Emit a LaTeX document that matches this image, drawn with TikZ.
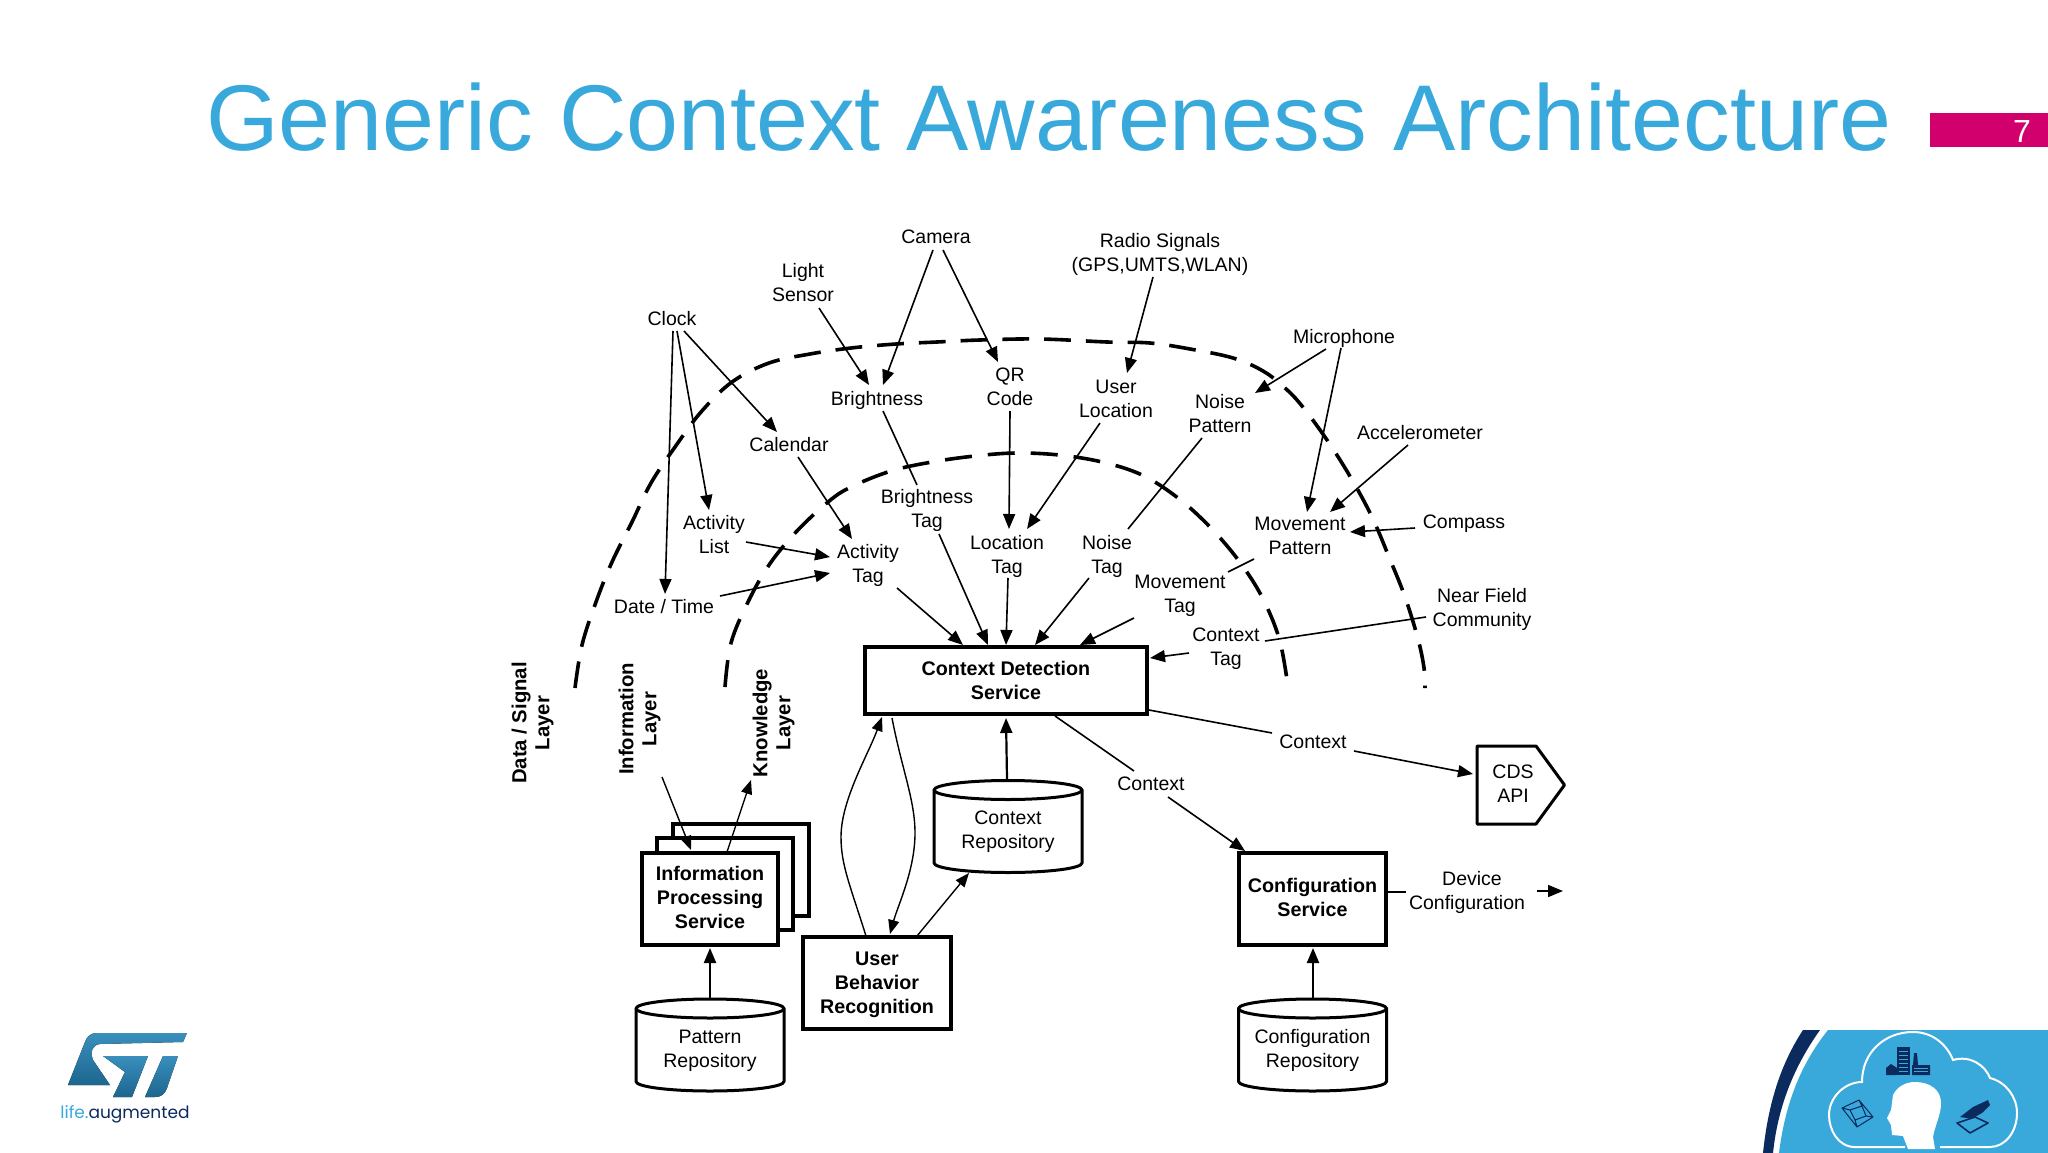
\documentclass[tikz,border=0pt]{standalone}
\usepackage{fontspec}
\setmainfont{Liberation Sans}
\newfontfamily\logofont{Poppins}
\usetikzlibrary{arrows.meta}
\definecolor{titleblue}{HTML}{39A9DC}
\definecolor{pagepink}{HTML}{D1006C}
\definecolor{navy}{HTML}{0B2A5E}
\definecolor{stdark}{HTML}{1C668F}
\definecolor{stlight}{HTML}{3A8FBC}
\tikzset{
  lab/.style={inner sep=0pt,align=center,font=\fontsize{19.5}{24}\selectfont},
  blab/.style={inner sep=0pt,align=center,font=\fontsize{20.3}{23}\selectfont\bfseries},
  boxn/.style={draw=black,line width=3.6pt,fill=white,inner sep=0pt,align=center,font=\fontsize{19.7}{24}\selectfont\bfseries},
  boxline/.style={draw=black,line width=3pt,fill=white,line join=round},
  arr/.style={-{Triangle[length=15pt,width=12pt]},line width=1.6pt},
  arrs/.style={-{Triangle[length=14pt,width=11pt]},line width=1.4pt},
  arrt/.style={-{Triangle[length=15pt,width=12pt]},line width=2.2pt},
  seg/.style={line width=1.6pt},
  layerout/.style={line width=3.6pt,dash pattern=on 26.8pt off 15pt},
  layerin/.style={line width=3.6pt,dash pattern=on 27pt off 16pt},
}
\newcommand{\repodraw}[2]{%
  \draw[boxline] (#1-74,#2-36.5) .. controls (#1-74,#2-41.75) and (#1-40.9,#2-46) .. (#1,#2-46) .. controls (#1+40.9,#2-46) and (#1+74,#2-41.75) .. (#1+74,#2-36.5) -- (#1+74,#2+36.5) .. controls (#1+74,#2+41.75) and (#1+40.9,#2+46) .. (#1,#2+46) .. controls (#1-40.9,#2+46) and (#1-74,#2+41.75) .. (#1-74,#2+36.5) -- cycle;
  \draw[line width=3pt,line cap=round] (#1-74,#2-36.5) .. controls (#1-74,#2-31.25) and (#1-40.9,#2-27) .. (#1,#2-27) .. controls (#1+40.9,#2-27) and (#1+74,#2-31.25) .. (#1+74,#2-36.5);
}
\begin{document}
\begin{tikzpicture}[x=1pt,y=-1pt]
\useasboundingbox (0,0) rectangle (2048,1153);
\fill[white] (0,0) rectangle (2048,1153);
% title and page number
\node[anchor=base west,inner sep=0pt,text=titleblue,font=\fontsize{93.4}{100}\selectfont] (title) at (206,150) {Generic Context Awareness Architecture};
\fill[pagepink] (1930,113) rectangle (2048,147);
\node[text=white,inner sep=0pt,font=\fontsize{32}{36}\selectfont] (pagenum) at (2022,131) {7};
% layer arcs
\draw[layerout] plot[smooth,tension=0.6] coordinates {(575,688)(582,645)(596,602)(612,562)(632,522)(651,483)(675,447)(701,412)(732,382)(769,363)(810,354)(851,348)(896,344)(937,342)(980,340)(1040,339)(1107,342)(1150,343)(1190,349)(1233,358)(1263,371)(1285,388)(1302,406)(1327,440)(1351,478)(1372,517)(1389,557)(1405,597)(1418,639)(1424,668)(1425,688)};
\draw[layerin] plot[smooth,tension=0.6] coordinates {(725,687)(731,643)(748,602)(769,565)(796,532)(828,502)(851,487)(891,471)(932,462)(975,456)(1016,453)(1059,455)(1102,462)(1142,475)(1178,498)(1210,527)(1239,561)(1262,597)(1279,638)(1287,680)};
% text nodes
\node[lab] (cam) at (936,237) {Camera};
\node[lab] (light) at (803,283) {Light\\Sensor};
\node[lab] (clock) at (672,319) {Clock};
\node[lab] (bright) at (877,400.6) {Brightness};
\node[lab] (qr) at (1010,387) {QR\\Code};
\node[lab] (cal) at (789,445) {Calendar};
\node[lab] (btag) at (927,510.3) {Brightness\\Tag};
\node[lab] (alist) at (714,535) {Activity\\List};
\node[lab] (atag) at (868,565.3) {Activity\\Tag};
\node[lab] (dt) at (664,607) {Date / Time};
\node[lab] (ltag) at (1007,556.6) {Location\\Tag};
\node[lab] (radio) at (1160,254.6) {Radio Signals\\(GPS,UMTS,WLAN)};
\node[lab] (uloc) at (1116,399.3) {User\\Location};
\node[lab] (mic) at (1344,338.6) {Microphone};
\node[lab] (npat) at (1220,414) {Noise\\Pattern};
\node[lab] (acc) at (1420,433) {Accelerometer};
\node[lab] (mpat) at (1300,536) {Movement\\Pattern};
\node[lab] (comp) at (1464,523.3) {Compass};
\node[lab] (near) at (1482,609.3) {Near Field\\Community};
\node[lab] (ntag) at (1107,556.3) {Noise\\Tag};
\node[lab] (mtag) at (1180,596.3) {Movement\\Tag};
\node[lab] (ctag) at (1226,648.3) {Context\\Tag};
\node[lab] (ctxa) at (1313,742) {Context};
\node[lab] (ctxb) at (1151,784) {Context};
\node[lab] (dev) at (1467,892.6) {\hspace*{10pt}Device\\Configuration};
% rotated layers
\node[blab,rotate=90] (ldata) at (532.6,723) {Data / Signal\\Layer};
\node[blab,rotate=90] (linfo) at (639.6,719) {Information\\Layer};
\node[blab,rotate=90] (lknow) at (773.5,723) {Knowledge\\Layer};
% boxes
\node[boxn,minimum width=282pt,minimum height=67pt] (cds) at (1006,680.5) {Context Detection\\Service};
\node[boxn,minimum width=136pt,minimum height=92pt] (ipsb) at (741,870) {};
\node[boxn,minimum width=136pt,minimum height=92pt] (ipsm) at (725,884) {};
\node[boxn,minimum width=136pt,minimum height=92pt] (ips) at (710,899) {Information\\Processing\\Service\rule[-3pt]{0pt}{0pt}};
\node[boxn,minimum width=148pt,minimum height=92pt] (ubr) at (877,983) {\rule{0pt}{18pt}User\\Behavior\\Recognition};
\node[boxn,minimum width=147pt,minimum height=92pt] (cfg) at (1312.5,899) {Configuration\\Service\rule[-3pt]{0pt}{0pt}};
% repositories
\repodraw{1008}{826.5}
\repodraw{710}{1045}
\repodraw{1312.5}{1045}
\node[lab] (crepo) at (1008,831.5) {Context\\Repository};
\node[lab] (prepo) at (710,1051.3) {Pattern\\Repository};
\node[lab] (frepo) at (1312.5,1050.3) {Configuration\\Repository};
% CDS API
\node[lab] (api) at (1513,784) {CDS\\API};
\draw[line width=3pt,line join=round] ([shift={(-36,-38)}]api.center) -- ([shift={(23,-38)}]api.center) -- ([shift={(51.5,1)}]api.center) -- ([shift={(23,40)}]api.center) -- ([shift={(-36,40)}]api.center) -- cycle;
\coordinate (devout) at (1563,891);
% connectors
\draw[arr] ([shift={(-3,13)}]cam.center) -- ([shift={(6,-15.6)}]bright.center);
\draw[arr] ([shift={(7,13)}]cam.center) -- ([shift={(-12,-25)}]qr.center);
\draw[arr] ([shift={(16,25)}]light.center) -- ([shift={(-8,-15.6)}]bright.center);
\draw[arr] ([shift={(1,12)}]clock.center) -- ([shift={(1,-13)}]dt.center);
\draw[arr] ([shift={(5,12)}]clock.center) -- ([shift={(-5,-25)}]alist.center);
\draw[arr] ([shift={(12,12)}]clock.center) -- ([shift={(-12,-13)}]cal.center);
\draw[arr] ([shift={(9,12)}]cal.center) -- ([shift={(-16,-26.3)}]atag.center);
\draw[seg] ([shift={(6,10.4)}]bright.center) -- ([shift={(-10,-25.3)}]btag.center);
\draw[arr] ([shift={(0,24)}]qr.center) -- ([shift={(2,-27.6)}]ltag.center);
\draw[arr] ([shift={(12,23.7)}]btag.center) -- ([shift={(-18,-35.5)}]cds.center);
\draw[arr] ([shift={(1,21.4)}]ltag.center) -- ([shift={(0,-35.5)}]cds.center);
\draw[arr] ([shift={(32,7)}]alist.center) -- ([shift={(-38,-8.3)}]atag.center);
\draw[arr] ([shift={(56,-11)}]dt.center) -- ([shift={(-38,7.7)}]atag.center);
\draw[arr] ([shift={(29,22.7)}]atag.center) -- ([shift={(-43,-35.5)}]cds.center);
\draw[arr] ([shift={(-7,22.4)}]radio.center) -- ([shift={(11,-26.3)}]uloc.center);
\draw[arr] ([shift={(-16,23.7)}]uloc.center) -- ([shift={(20,-27.6)}]ltag.center);
\draw[arr] ([shift={(-18,10.4)}]mic.center) -- ([shift={(35,-21)}]npat.center);
\draw[arr] ([shift={(-3,9.4)}]mic.center) -- ([shift={(7,-24)}]mpat.center);
\draw[arr] ([shift={(-12,12)}]acc.center) -- ([shift={(30,-24)}]mpat.center);
\draw[arr] ([shift={(-49,4.7)}]comp.center) -- ([shift={(50,-4)}]mpat.center);
\draw[seg] ([shift={(-18,24)}]npat.center) -- ([shift={(21,-27.3)}]ntag.center);
\draw[arr] ([shift={(-18,21.7)}]ntag.center) -- ([shift={(29,-35.5)}]cds.center);
\draw[seg] ([shift={(-46,23)}]mpat.center) -- ([shift={(48,-24.3)}]mtag.center);
\draw[arr] ([shift={(-46,21.7)}]mtag.center) -- ([shift={(74,-35.5)}]cds.center);
\draw[seg] ([shift={(-56,7.7)}]near.center) -- ([shift={(39,-7.3)}]ctag.center);
\draw[arr] ([shift={(-37,4.7)}]ctag.center) -- ([shift={(144,-22.5)}]cds.center);
\draw[seg] ([shift={(143,29.5)}]cds.center) -- ([shift={(-41,-9)}]ctxa.center);
\draw[arr] ([shift={(41,9)}]ctxa.center) -- ([shift={(-40,-10)}]api.center);
\draw[seg] ([shift={(49,35.5)}]cds.center) -- ([shift={(-17,-13)}]ctxb.center);
\draw[arr] ([shift={(17,13)}]ctxb.center) -- ([shift={(-67.5,-48)}]cfg.center);
\draw[seg] ([shift={(75.5,-7)}]cfg.center) -- ([shift={(-61,-0.6)}]dev.center);
\draw[arr] ([shift={(70,-1.6)}]dev.center) -- (devout);
\draw[arrt] ([shift={(0.5,-52.3)}]frepo.center) -- ([shift={(0.5,49)}]cfg.center);
\draw[arrt] ([shift={(0,-53.3)}]prepo.center) -- ([shift={(0,49)}]ips.center);
\draw[arrt] ([shift={(-1,-52.5)}]crepo.center) -- ([shift={(0,37.5)}]cds.center);
\draw[arrs] ([shift={(40,-47)}]ubr.center) -- ([shift={(-39,41.5)}]crepo.center);
\draw[arrs] ([shift={(-11,-47)}]ubr.center) .. controls (850,885) and (841,865) .. (841,837) .. controls (841,800) and (868,755) .. ([shift={(-124,36.5)}]cds.center);
\draw[arrs] ([shift={(-114,37.5)}]cds.center) .. controls (902,770) and (915,800) .. (915,833) .. controls (915,870) and (898,905) .. ([shift={(13,-49)}]ubr.center);
\draw[arrs] ([shift={(17,-47)}]ips.center) -- ([shift={(-22.5,57)}]lknow.center);
\draw[arrs] ([shift={(22.4,58)}]linfo.center) -- ([shift={(-19,-49)}]ips.center);
% ST logo
\fill[top color=stlight,bottom color=stdark] (187,1033) -- (97,1033) .. controls (90,1033) and (87,1037) .. (85,1042) -- (68,1085) -- (110,1085) -- (93,1060) .. controls (90,1052) and (92,1045) .. (100,1044) -- (183,1042) -- cycle;
\fill[top color=stlight,bottom color=stdark] (103,1056) -- (148,1056) -- (132,1097) -- (113,1097) -- (125,1072) -- cycle;
\fill[top color=stlight,bottom color=stdark] (163,1056) -- (178,1056) -- (167,1088) .. controls (165,1094) and (161,1097) .. (155,1097) -- (145,1097) -- cycle;
\node[inner sep=0pt,font=\logofont\fontsize{17}{20}\selectfont] (logotext) at (125,1114) {\textcolor{titleblue}{life.}\textcolor{navy}{augmented}};
% corner illustration
\fill[titleblue] (1828,1030) .. controls (1800,1065) and (1785,1105) .. (1779,1153) -- (2048,1153) -- (2048,1030) -- cycle;
\fill[navy] (1803,1030) .. controls (1780,1065) and (1768,1105) .. (1763,1153) -- (1773,1153) .. controls (1778,1105) and (1795,1065) .. (1820,1030) -- cycle;
\draw[white,line width=2pt] (1905,1147) -- (1855,1147) .. controls (1838,1147) and (1829,1130) .. (1829,1115) .. controls (1829,1097) and (1845,1082) .. (1862,1082) .. controls (1862,1052) and (1885,1032) .. (1913,1032) .. controls (1933,1032) and (1947,1045) .. (1953,1060) .. controls (1970,1055) and (1985,1065) .. (1990,1078) .. controls (2006,1082) and (2017,1097) .. (2017,1113) .. controls (2017,1132) and (2005,1147) .. (1990,1147) -- (1940,1147);
\fill[white] (1908,1149) -- (1903,1136) -- (1892,1135) -- (1891,1125) -- (1887,1118) -- (1891,1110) -- (1893,1095) .. controls (1897,1087) and (1905,1082) .. (1915,1082) .. controls (1930,1082) and (1941,1090) .. (1941,1103) .. controls (1941,1115) and (1935,1125) .. (1933,1137) -- (1935,1149) -- cycle;
\fill[navy] (1897,1047) rectangle (1910,1075);
\fill[navy] (1886,1075) -- (1886,1068) -- (1891,1064) -- (1897,1068) -- (1897,1075) -- cycle;
\fill[navy] (1912,1075) -- (1912,1065) -- (1913,1065) -- (1914,1053) -- (1917,1053) -- (1918,1065) -- (1930,1065) -- (1930,1075) -- cycle;
\foreach \yy in {1051,1055,1059,1063,1067,1071} \draw[titleblue,line width=0.7pt] (1899,\yy) -- (1908,\yy);
\foreach \yy in {1068,1071} \draw[titleblue,line width=0.7pt] (1914,\yy) -- (1928,\yy);
\draw[navy,line width=1pt,line join=round] (1842,1108) -- (1859,1100) -- (1873,1117) -- (1857,1127) -- cycle (1850,1110) -- (1862,1106) -- (1866,1116) -- (1855,1120) -- cycle (1842,1108) -- (1850,1110) (1859,1100) -- (1862,1106) (1873,1117) -- (1866,1116) (1857,1127) -- (1855,1120);
\fill[navy] (1960,1117) -- (1973,1107) -- (1988,1100) -- (1990,1105) -- (1982,1113) -- (1973,1118) -- (1967,1118) -- cycle;
\draw[navy,line width=1.6pt,line join=round] (1957,1123) -- (1975,1117) -- (1988,1123) -- (1970,1133) -- cycle;
\end{tikzpicture}
\end{document}
